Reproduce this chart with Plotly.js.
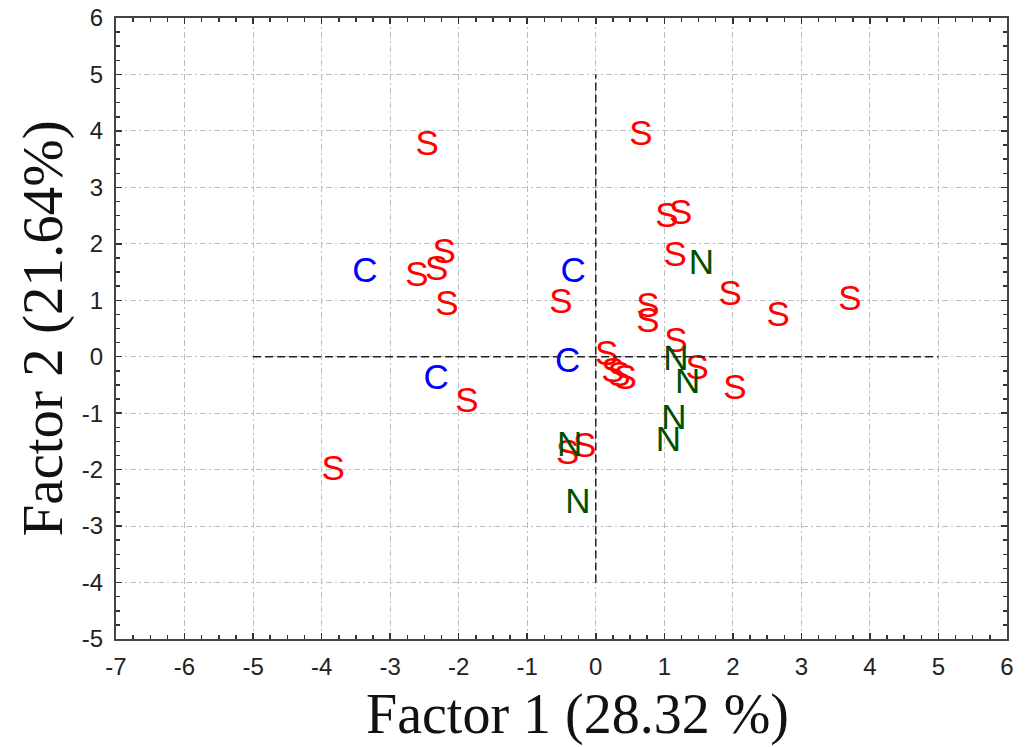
<!DOCTYPE html>
<html>
<head>
<meta charset="utf-8">
<script src="https://cdn.plot.ly/plotly-3.0.1.min.js"></script>
<style>html,body{margin:0;padding:0;background:#fff;}#chart{width:1028px;height:747px;}</style>
</head>
<body>
<div id="chart"></div>
<script>
// S group
var sX = [-2.46, 0.66, 1.04, 1.24, 1.16, 1.96, 2.66, 3.71, -2.21, -2.61, -2.32, -2.17, -0.51, 0.76, 0.76, 1.17, -1.88, 0.16, 0.25, 0.34, 0.43, 1.48, 2.03, -0.41, -0.16, -3.83];
var sY = [3.73, 3.91, 2.46, 2.51, 1.77, 1.08, 0.70, 0.99, 1.82, 1.41, 1.52, 0.90, 0.93, 0.85, 0.59, 0.23, -0.82, 0.00, -0.29, -0.36, -0.41, -0.24, -0.59, -1.74, -1.62, -2.02];
// C group
var cX = [-3.37, -0.33, -2.33, -0.41];
var cY = [1.48, 1.48, -0.41, -0.12];
// N group
var nX = [1.54, 1.17, 1.34, 1.14, 1.06, -0.38, -0.26];
var nY = [1.62, -0.08, -0.49, -1.12, -1.52, -1.60, -2.62];

var xTicks = [-7, -6, -5, -4, -3, -2, -1, 0, 1, 2, 3, 4, 5, 6];
var yTicks = [-5, -4, -3, -2, -1, 0, 1, 2, 3, 4, 5, 6];

function rep(letter, n) { var a = []; for (var i = 0; i < n; i++) a.push(letter); return a; }

var letterFont = 'Liberation Sans, Arial, sans-serif';
var fs = 35;

var traces = [
  {x: sX, y: sY, mode: 'text', text: rep('S', sX.length), textposition: 'middle center',
   textfont: {family: letterFont, size: fs, color: '#ff0000'}, hoverinfo: 'x+y', showlegend: false},
  {x: cX, y: cY, mode: 'text', text: rep('C', cX.length), textposition: 'middle center',
   textfont: {family: letterFont, size: fs, color: '#0000ff'}, hoverinfo: 'x+y', showlegend: false},
  {x: nX, y: nY, mode: 'text', text: rep('N', nX.length), textposition: 'middle center',
   textfont: {family: letterFont, size: fs, color: '#005000'}, hoverinfo: 'x+y', showlegend: false}
];

var axisCommon = {
  showline: true, linecolor: '#444', linewidth: 2, mirror: 'ticks',
  ticks: 'inside', ticklen: 6, tickwidth: 1.5, tickcolor: '#333',
  showgrid: true, gridcolor: '#bdbdbd', gridwidth: 1, griddash: '6px,3px,2px,3px',
  zeroline: false,
  tickfont: {family: letterFont, size: 24, color: '#222'},
  minor: {dtick: 0.25, ticks: 'inside', ticklen: 4, tickwidth: 1.5, tickcolor: '#333', showgrid: false}
};

var layout = {
  width: 1028, height: 747,
  margin: {l: 116, r: 21, t: 18, b: 108},
  paper_bgcolor: '#fff', plot_bgcolor: '#fff',
  xaxis: Object.assign({}, axisCommon, {range: [-7, 6], tickvals: xTicks, ticktext: xTicks.map(String), ticklabelstandoff: 5}),
  yaxis: Object.assign({}, axisCommon, {range: [-5, 6], tickvals: yTicks, ticktext: yTicks.map(String), ticklabelstandoff: 6}),
  shapes: [
    {type: 'line', xref: 'x', yref: 'y', x0: -5, x1: 5, y0: 0, y1: 0, line: {color: '#222', width: 1.5, dash: '8px,4px'}},
    {type: 'line', xref: 'x', yref: 'y', x0: 0, x1: 0, y0: -4, y1: 5, line: {color: '#222', width: 1.5, dash: '8px,4px'}}
  ],
  annotations: [
    {text: 'Factor 1 (28.32 %)', xref: 'paper', yref: 'paper', x: 0.518, y: -0.122, xanchor: 'center', yanchor: 'middle',
     showarrow: false, font: {family: 'Liberation Serif, Times New Roman, serif', size: 56, color: '#111'}},
    {text: 'Factor 2 (21.64%)', xref: 'paper', yref: 'paper', x: -0.083, y: 0.5, xanchor: 'center', yanchor: 'middle',
     textangle: -90, showarrow: false, font: {family: 'Liberation Serif, Times New Roman, serif', size: 57, color: '#111'}}
  ]
};

Plotly.newPlot('chart', traces, layout, {displayModeBar: false, staticPlot: true});
</script>
</body>
</html>
